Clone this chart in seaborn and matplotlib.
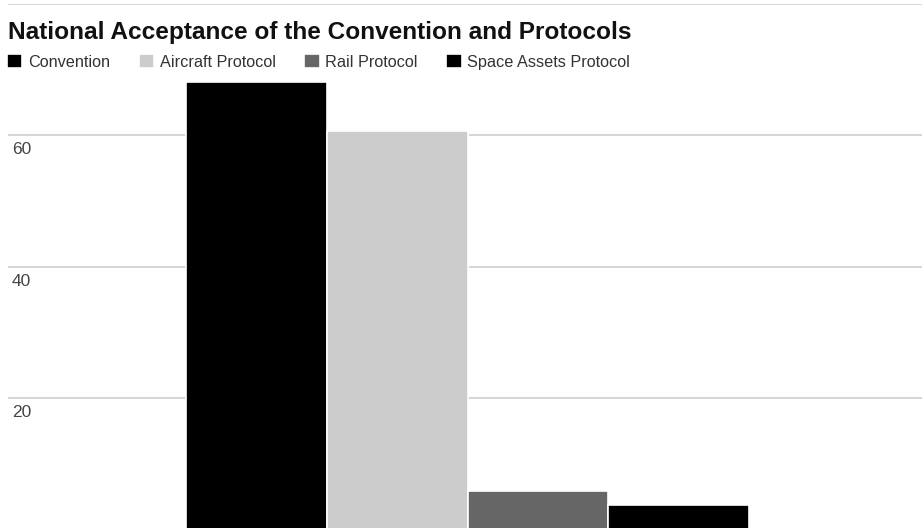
import matplotlib
matplotlib.use("Agg")
import matplotlib.pyplot as plt
import seaborn as sns
import pandas as pd

# ---- data ----
series = ["Convention", "Aircraft Protocol", "Rail Protocol", "Space Assets Protocol"]
values = [68, 60.6, 5.9, 3.8]
colors = ["#000000", "#cccccc", "#666666", "#000000"]
grid_ticks = [0, 20, 40, 60, 80]
labeled_ticks = [20, 40, 60]
title = "National Acceptance of the Convention and Protocols"

df = pd.DataFrame({"group": ["all"] * len(series), "series": series, "value": values})

sns.set_theme(style="white")
plt.rcParams["font.family"] = ["Liberation Sans", "DejaVu Sans"]

W, H = 922, 528
fig = plt.figure(figsize=(W / 100, H / 100), dpi=100)
ax = fig.add_axes([8 / W, -1.5 / H, 1 - 8 / W, 526 / H])

sns.barplot(data=df, x="group", y="value", hue="series", hue_order=series,
            palette=colors, width=0.616, edgecolor="white", linewidth=1.2,
            saturation=1, ax=ax, legend=True)

ax.set_xlim(-0.5028, 0.4972)
ax.set_ylim(0, 80)
ax.set_yticks(grid_ticks)
ax.yaxis.grid(True, color="#d2d2d2", linewidth=1.3)
ax.set_axisbelow(True)
ax.tick_params(left=False, bottom=False, labelleft=False, labelbottom=False)
ax.set_xlabel("")
ax.set_ylabel("")
for s in ax.spines.values():
    s.set_visible(False)

for v in labeled_ticks:
    ax.annotate(str(v), xy=(0, v), xycoords=ax.get_yaxis_transform(),
                xytext=(4, -7), textcoords="offset pixels",
                ha="left", va="top", fontsize=12.5, color="#444444")

fig.text(8 / W, 1 - 33 / H, title, ha="left", va="center",
         fontsize=17.6, fontweight="bold", color="#111111")

sns.move_legend(ax, loc="center left", bbox_to_anchor=(7 / W, 1 - 62 / H),
                bbox_transform=fig.transFigure, ncol=4, frameon=False,
                title=None, fontsize=11.7, handlelength=0.95, handleheight=0.95,
                handletextpad=0.35, columnspacing=1.75, borderpad=0,
                borderaxespad=0)
for t in ax.get_legend().get_texts():
    t.set_color("#333333")

fig.savefig("out.png", dpi=100, facecolor="white")
